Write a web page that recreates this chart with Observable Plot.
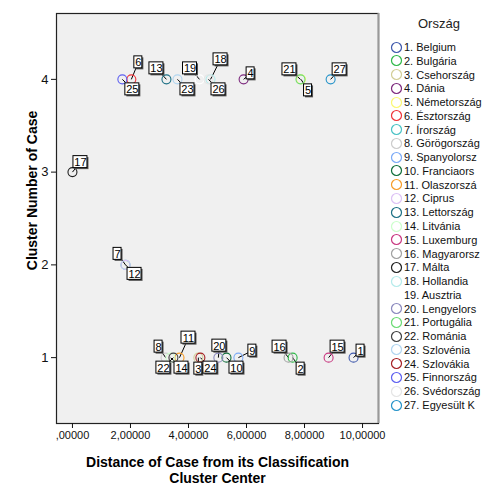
<!DOCTYPE html>
<html><head><meta charset="utf-8">
<script src="https://cdn.jsdelivr.net/npm/d3@7"></script>
<script src="https://cdn.jsdelivr.net/npm/@observablehq/plot@0.6"></script>
<style>
body{margin:0;background:#fff;font-family:Arial,"Liberation Sans",sans-serif;}
#wrap{position:relative;width:504px;height:504px;overflow:hidden;}
#legend{position:absolute;left:0;top:0;width:504px;height:504px;pointer-events:none;}
.lt{position:absolute;font-size:13px;color:#222;}
.li{position:absolute;font-size:11px;color:#111;white-space:nowrap;display:flex;align-items:center;}
.li svg{margin-right:1px;}
</style></head><body><div id="wrap"><div id="legend"></div></div>
<script>
// ---- data ----
const caseIds = [1,2,3,4,5,6,7,8,9,10,11,12,13,14,15,16,17,18,19,20,21,22,23,24,25,26,27];
const countryNames = ["Belgium","Bulgária","Csehország","Dánia","Németország","Észtország","Írország","Görögország","Spanyolorsz","Franciaors","Olaszorszá","Ciprus","Lettország","Litvánia","Luxemburg","Magyarorsz","Málta","Hollandia","Ausztria","Lengyelors","Portugália","Románia","Szlovénia","Szlovákia","Finnország","Svédország","Egyesült K"];
const distances = [9.69,7.59,4.34,5.90,7.88,2.03,1.83,3.21,5.72,5.31,3.69,1.83,3.24,3.38,8.83,7.45,0.00,4.76,4.38,5.03,7.86,3.48,3.62,4.41,1.72,4.69,8.90];
const clusters = [1,1,1,4,4,4,2,1,1,1,1,2,4,1,1,1,3,4,4,1,4,1,4,1,4,4,4];
const countryColors = ["#3E58AC","#2EB848","#D3CE97","#7C287D","#FBF873","#EF3338","#48C2C5","#CCCCCC","#7BAAF7","#0F6E3A","#F79C27","#DDC2F5","#1B6F84","#CCFFCC","#C83880","#A1A1A1","#202020","#B5EBEB","#FFFFFF","#8A88BE","#6BDB74","#404040","#B0D5F0","#A51F24","#5D5FF0","#E5E5E5","#2593C9"];
const xTicks = [0,2,4,6,8,10];
const yTicks = [1,2,3,4];
const legendTitle = "Ország";
const xTitle = "Distance of Case from its Classification\nCluster Center";
const yTitle = "Cluster Number of Case";
// annotation placement (pixel offsets of case labels from their point)
const labelDx = [7,8,0,7,7,7,-8,-7,14,10,9,9,-10,11,9,-9,8,10,-9.5,1,-11,-10,10,10,10,10,9];
const labelDy = [-7,11,11,-6,11,-17,-11,-11,-7,10,-20,9,-11,10,-11,-11,-10,-20,-11,-12,-10,10,10,10,10,10,-10];

const rows = caseIds.map((id,i)=>({id, name:countryNames[i], x:distances[i], y:clusters[i], color:countryColors[i], dx:labelDx[i], dy:labelDy[i]}));

// ---- layout ----
const W=504,H=504,mL=56,mR=126,mT=13,mB=81;
const xDom=[-0.55,10.55], yDom=[0.29,4.71];
const sx=(xDom[1]-xDom[0])/(W-mL-mR), sy=(yDom[1]-yDom[0])/(H-mT-mB);
const bw = d => String(d.id).length===1 ? 8 : 14;
const bh = 12;
const font = "Arial, 'Liberation Sans', sans-serif";

const chart = Plot.plot({
  width:W, height:H, marginLeft:mL, marginRight:mR, marginTop:mT, marginBottom:mB,
  style:{fontFamily:font, background:"transparent", color:"#111"},
  x:{domain:xDom},
  y:{domain:yDom},
  marks:[
    Plot.frame({fill:"#f0f0f0", stroke:"#222", strokeWidth:1.2}),
    Plot.ruleX([xDom[1]], {stroke:"#999", strokeWidth:2}),
    Plot.axisX({ticks:xTicks, tickSize:5, tickPadding:3, fontSize:11, label:null,
      tickFormat:d => d===0 ? ",00000" : d.toFixed(5).replace(".",",")}),
    Plot.axisY({ticks:yTicks, tickSize:5, tickPadding:3, fontSize:13, label:null, tickFormat:d=>String(d)}),
    Plot.link(rows, {x1:"x", y1:"y", x2:d=>d.x+d.dx*sx, y2:d=>d.y-d.dy*sy, stroke:"#000", strokeWidth:1}),
    Plot.dot(rows, {x:"x", y:"y", stroke:"color", r:4.5, strokeWidth:1.1, fill:"none"}),
    Plot.rect(rows, {x1:d=>d.x+(d.dx-bw(d)/2)*sx, x2:d=>d.x+(d.dx+bw(d)/2)*sx,
      y1:d=>d.y-(d.dy-bh/2)*sy, y2:d=>d.y-(d.dy+bh/2)*sy, fill:"#555", dx:1.5, dy:1.5, inset:0}),
    Plot.rect(rows, {x1:d=>d.x+(d.dx-bw(d)/2)*sx, x2:d=>d.x+(d.dx+bw(d)/2)*sx,
      y1:d=>d.y-(d.dy-bh/2)*sy, y2:d=>d.y-(d.dy+bh/2)*sy, fill:"#fff", stroke:"#000", strokeWidth:1, inset:0}),
    Plot.text(rows, {x:d=>d.x+d.dx*sx, y:d=>d.y-d.dy*sy, text:d=>String(d.id), fontSize:11, fill:"#000", dy:0.5}),
    Plot.text([yTitle], {x:xDom[0], y:yDom[1]-(190-mT)*sy, rotate:-90, dx:-24, fontWeight:"bold", fontSize:14, fill:"#000"}),
    Plot.text([xTitle], {frameAnchor:"bottom", lineAnchor:"top", dy:32, lineHeight:1.15, fontWeight:"bold", fontSize:14, fill:"#000"})
  ]
});
document.getElementById("wrap").prepend(chart);

// ---- legend ----
const lg = document.getElementById("legend");
const t = document.createElement("div");
t.className="lt"; t.textContent=legendTitle; t.style.left="418px"; t.style.top="16px";
lg.appendChild(t);
rows.forEach((d,i)=>{
  const el = document.createElement("div");
  el.className="li";
  el.style.left="390px";
  el.style.top=(40.5 + i*13.77)+"px";
  el.innerHTML = `<svg width="13" height="13"><circle cx="6.5" cy="6.5" r="5" fill="none" stroke="${d.color}" stroke-width="1.2"/></svg>`;
  const s = document.createElement("span");
  s.textContent = `${d.id}. ${d.name}`;
  el.appendChild(s);
  lg.appendChild(el);
});
</script>
</body></html>
